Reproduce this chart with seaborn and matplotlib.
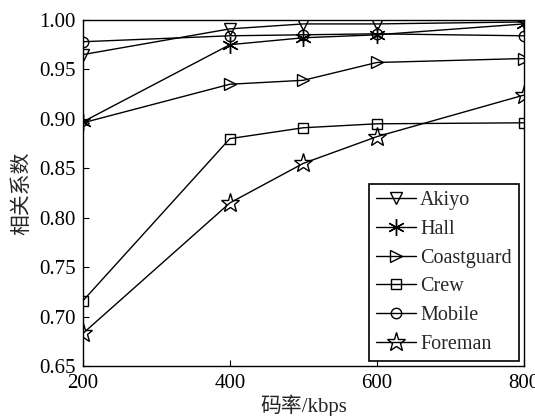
import numpy as np
import pandas as pd
import matplotlib
matplotlib.use("Agg")
import matplotlib.pyplot as plt
import seaborn as sns

# bit rates (kbps)
rates = [200, 400, 500, 600, 800]

# correlation coefficients per sequence
akiyo = [0.965, 0.991, 0.996, 0.996, 0.998]
hall = [0.897, 0.975, 0.982, 0.985, 0.996]
coastguard = [0.896, 0.935, 0.939, 0.957, 0.961]
crew = [0.716, 0.880, 0.891, 0.895, 0.896]
mobile = [0.978, 0.984, 0.985, 0.986, 0.984]
foreman = [0.683, 0.815, 0.855, 0.882, 0.924]

names = ["Akiyo", "Hall", "Coastguard", "Crew", "Mobile", "Foreman"]
values = [akiyo, hall, coastguard, crew, mobile, foreman]
yticks = [0.65, 0.70, 0.75, 0.80, 0.85, 0.90, 0.95, 1.00]

sns.set_style("ticks")
plt.rcParams["font.family"] = ["Liberation Serif", "Noto Sans CJK SC"]
plt.rcParams["xtick.direction"] = "in"
plt.rcParams["ytick.direction"] = "in"

rows = []
for n, v in zip(names, values):
    for r, y in zip(rates, v):
        rows.append({"rate": r, "corr": y, "seq": n})
df = pd.DataFrame(rows)

markers = {"Akiyo": "v", "Hall": (6, 2, 0), "Coastguard": ">",
           "Crew": "s", "Mobile": "o", "Foreman": "*"}
sizes = {"Akiyo": 8.5, "Hall": 12, "Coastguard": 8.5,
         "Crew": 6.5, "Mobile": 7.5, "Foreman": 14}

fig = plt.figure(figsize=(5.35, 4.16), dpi=100)
ax = fig.add_axes([0.155, 0.12, 0.824, 0.832])

for n in names:
    sub = df[df["seq"] == n]
    sns.lineplot(data=sub, x="rate", y="corr", ax=ax, color="black",
                 linewidth=1.0, marker=markers[n], markersize=sizes[n],
                 markerfacecolor="none", markeredgecolor="black",
                 markeredgewidth=1.0, label=n)

ax.set_xlim(200, 800)
ax.set_ylim(0.65, 1.00)
ax.set_xticks([200, 400, 600, 800])
ax.set_yticks(yticks)
ax.set_yticklabels([f"{t:.2f}" for t in yticks])
ax.tick_params(labelsize=15, length=4, width=0.8, colors="black")
ax.tick_params(axis="x", pad=6)
ax.tick_params(axis="y", pad=5)
for s in ax.spines.values():
    s.set_visible(True)
    s.set_color("black")
    s.set_linewidth(1.0)

ax.set_xlabel("码率/kbps", fontsize=15, labelpad=1)
ax.set_ylabel("相关系数", fontsize=15, labelpad=5)

leg = ax.legend(loc="lower right", fontsize=14.5, frameon=True, fancybox=False,
                edgecolor="black", framealpha=1, handlelength=2.0,
                handletextpad=0.2, borderpad=0.35, labelspacing=0.48,
                borderaxespad=0.25)
leg.get_frame().set_linewidth(1.2)

fig.savefig("out.png", dpi=100)
